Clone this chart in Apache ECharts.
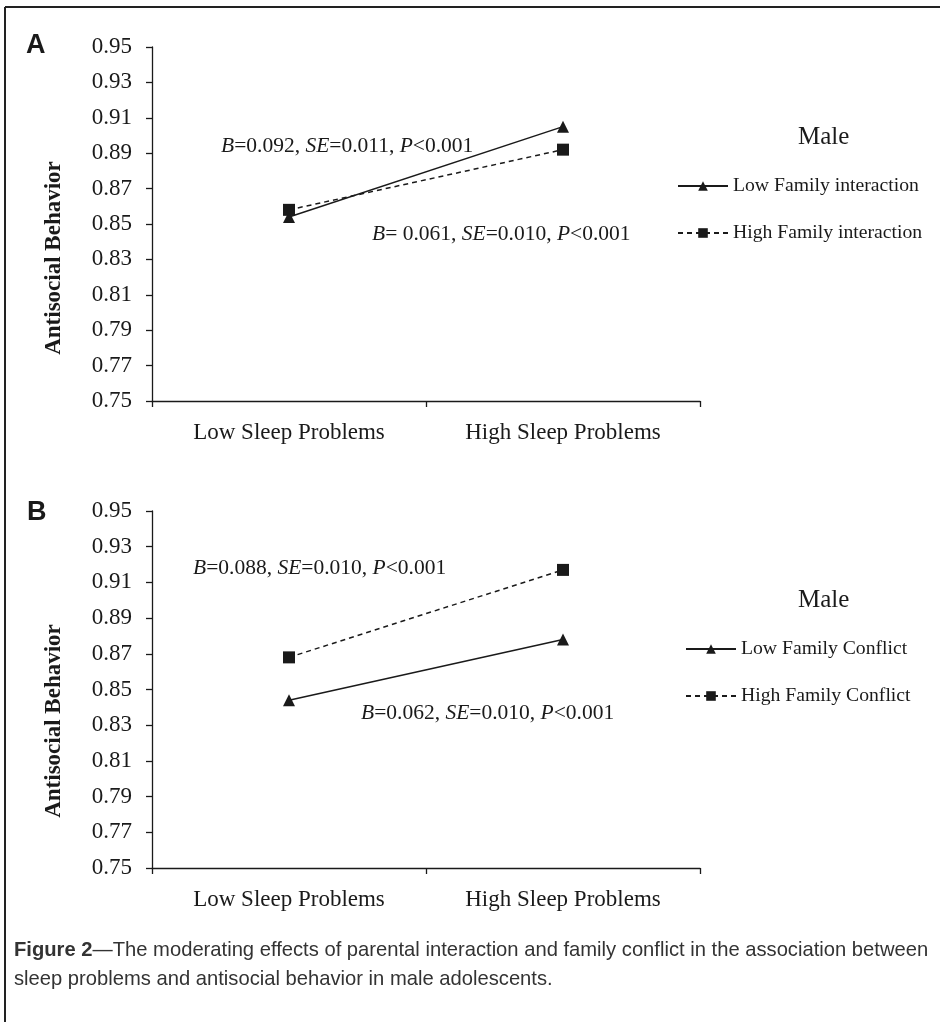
<!DOCTYPE html>
<html>
<head>
<meta charset="utf-8">
<script src="https://cdn.jsdelivr.net/npm/echarts@6/dist/echarts.min.js"></script>
<style>
  html, body { margin: 0; padding: 0; background: #fff; }
  #chart { width: 940px; height: 1022px; }
</style>
</head>
<body>
<div id="chart"></div>
<script>
var chart = echarts.init(document.getElementById('chart'));

var categories = ['Low Sleep Problems', 'High Sleep Problems'];
var yTicks = [0.75, 0.95, 0.02];

// panel A: family interaction
var lowInteraction = [0.854, 0.905];
var highInteraction = [0.858, 0.892];
// panel B: family conflict
var lowConflict = [0.844, 0.878];
var highConflict = [0.868, 0.917];

var serif = 'Liberation Serif';
var ink = '#1a1a1a';

function xAxis(idx) {
    return {
        type: 'category',
        gridIndex: idx,
        data: categories,
        boundaryGap: true,
        axisLine: {lineStyle: {color: ink, width: 1.3}},
        axisTick: {show: true, length: 6, lineStyle: {color: ink, width: 1.3}},
        axisLabel: {color: ink, fontFamily: serif, fontSize: 23, margin: 20}
    };
}

function yAxis(idx) {
    return {
        type: 'value',
        gridIndex: idx,
        min: yTicks[0],
        max: yTicks[1],
        interval: yTicks[2],
        axisLine: {show: true, lineStyle: {color: ink, width: 1.3}},
        axisTick: {show: true, length: 6, lineStyle: {color: ink, width: 1.3}},
        splitLine: {show: false},
        axisLabel: {
            color: ink, fontFamily: serif, fontSize: 23, margin: 20,
            formatter: function (v) { return v.toFixed(2); }
        }
    };
}

function line(name, data, idx, dashed) {
    return {
        name: name,
        type: 'line',
        xAxisIndex: idx,
        yAxisIndex: idx,
        data: data,
        symbol: dashed ? 'rect' : 'triangle',
        symbolSize: 12,
        itemStyle: {color: ink},
        lineStyle: {color: ink, width: 1.5, type: dashed ? [5, 4] : 'solid'},
        silent: true
    };
}

function annot(x, y, b, se) {
    return {
        type: 'text',
        x: x,
        y: y,
        style: {
            text: '{i|B}=' + b + ', {i|SE}=' + se + ', {i|P}<0.001',
            fontFamily: serif,
            fontSize: 21.5,
            fill: ink,
            verticalAlign: 'middle',
            rich: {
                i: {fontStyle: 'italic', fontFamily: serif, fontSize: 21.5, fill: ink}
            }
        }
    };
}

function plainText(x, y, txt, size, family, weight) {
    return {
        type: 'text', x: x, y: y,
        style: {text: txt, fontFamily: family, fontSize: size, fontWeight: weight || 'normal',
                fill: ink, verticalAlign: 'middle'}
    };
}

function yName(y) {
    return {
        type: 'text', x: 54, y: y, rotation: Math.PI / 2,
        style: {text: 'Antisocial Behavior', fontFamily: serif, fontSize: 23, fontWeight: 'bold',
                fill: ink, align: 'center', verticalAlign: 'middle'}
    };
}

var legendBase = {
    orient: 'vertical',
    itemWidth: 50,
    itemHeight: 12,
    itemGap: 27,
    textStyle: {color: ink, fontFamily: serif, fontSize: 19.7}
};

var option = {
    animation: false,
    backgroundColor: '#fff',
    grid: [
        {left: 152, top: 47, width: 548, height: 354},
        {left: 152, top: 511, width: 548, height: 357}
    ],
    xAxis: [xAxis(0), xAxis(1)],
    yAxis: [yAxis(0), yAxis(1)],
    legend: [
        Object.assign({}, legendBase, {left: 672, top: 171, data: ['Low Family interaction', 'High Family interaction']}),
        Object.assign({}, legendBase, {left: 680, top: 634, data: ['Low Family Conflict', 'High Family Conflict']})
    ],
    series: [
        line('Low Family interaction', lowInteraction, 0, false),
        line('High Family interaction', highInteraction, 0, true),
        line('Low Family Conflict', lowConflict, 1, false),
        line('High Family Conflict', highConflict, 1, true)
    ],
    graphic: [
        {type: 'line', shape: {x1: 5, y1: 7, x2: 940, y2: 7}, style: {stroke: '#222', lineWidth: 2}},
        {type: 'line', shape: {x1: 5, y1: 7, x2: 5, y2: 1022}, style: {stroke: '#222', lineWidth: 2}},
        plainText(26, 46, 'A', 27, 'Liberation Sans', 'bold'),
        plainText(27, 513, 'B', 27, 'Liberation Sans', 'bold'),
        yName(258),
        yName(721),
        annot(221, 146, '0.092', '0.011'),
        annot(372, 234, ' 0.061', '0.010'),
        annot(193, 568, '0.088', '0.010'),
        annot(361, 713, '0.062', '0.010'),
        plainText(798, 137, 'Male', 25, serif),
        plainText(798, 600, 'Male', 25, serif),
        {
            type: 'text', x: 14, y: 936,
            style: {
                text: '{b|Figure 2}—The moderating effects of parental interaction and family conflict in the association between\nsleep problems and antisocial behavior in male adolescents.',
                fontFamily: 'Liberation Sans',
                fontSize: 20.2,
                lineHeight: 29,
                fill: '#333',
                rich: {b: {fontWeight: 'bold', fontFamily: 'Liberation Sans', fontSize: 20.2, fill: '#333'}}
            }
        }
    ]
};

chart.setOption(option);
</script>
</body>
</html>
